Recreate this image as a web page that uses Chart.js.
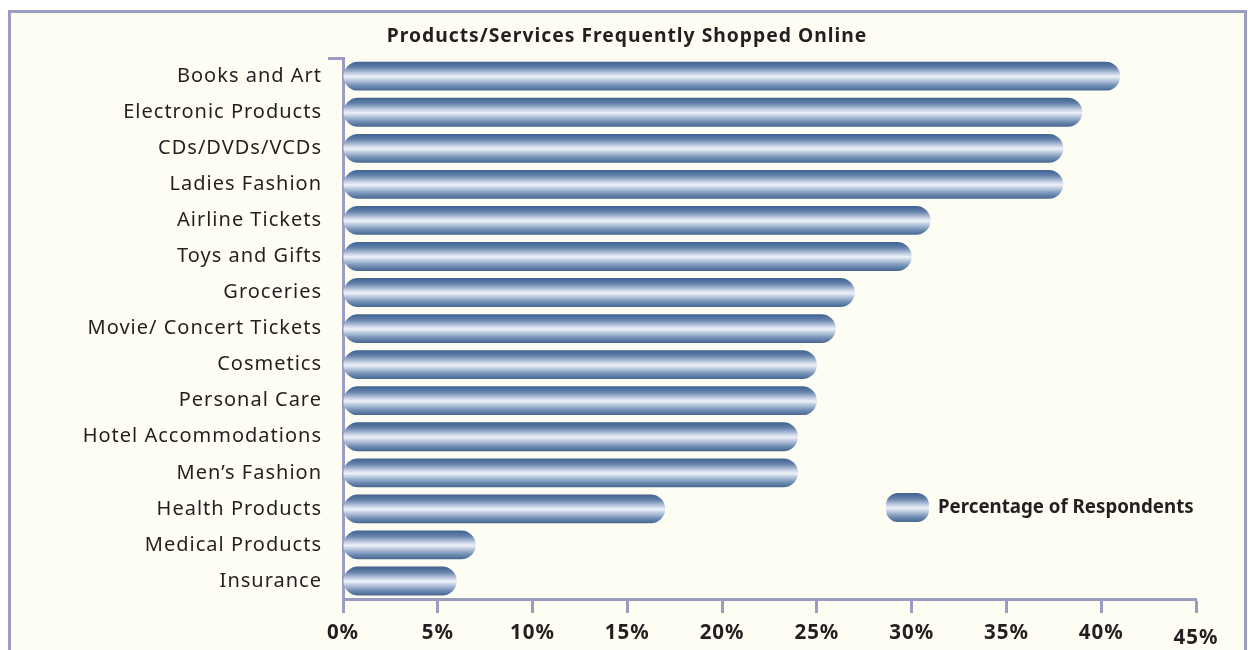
<!DOCTYPE html>
<html>
<head>
<meta charset="utf-8">
<script src="https://cdn.jsdelivr.net/npm/chart.js@4"></script>
<style>
  html, body { margin: 0; padding: 0; background: #fff; }
  #wrap { width: 1248px; height: 650px; }
</style>
</head>
<body>
<div id="wrap"><canvas id="myChart" width="1248" height="650"></canvas></div>
<script>
var categories = [
    "Books and Art", "Electronic Products", "CDs/DVDs/VCDs", "Ladies Fashion",
    "Airline Tickets", "Toys and Gifts", "Groceries", "Movie/ Concert Tickets",
    "Cosmetics", "Personal Care", "Hotel Accommodations", "Men\u2019s Fashion",
    "Health Products", "Medical Products", "Insurance"
];
var respondents = [41, 39, 38, 38, 31, 30, 27, 26, 25, 25, 24, 24, 17, 7, 6];
var xTicks = [0, 5, 10, 15, 20, 25, 30, 35, 40, 45];
var seriesLabel = "Percentage of Respondents";
var chartTitle = "Products/Services Frequently Shopped Online";

var axisColor = '#9a9dbf';
var textColor = '#231f20';
var fontFamily = "'Noto Sans', 'Open Sans', sans-serif";

// cylinder look for the bars
function tube(ctx, top, h) {
    var g = ctx.createLinearGradient(0, top, 0, top + h);
    g.addColorStop(0, '#3d618f');
    g.addColorStop(0.2, '#6582ab');
    g.addColorStop(0.42, '#c9d4e6');
    g.addColorStop(0.52, '#eef2f9');
    g.addColorStop(0.62, '#c3cfe3');
    g.addColorStop(0.82, '#7390b6');
    g.addColorStop(1, '#45668f');
    return g;
}

function barFill(c) {
    var chart = c.chart;
    var y = chart.scales.y;
    if (!y || c.dataIndex === undefined) return '#5a7aa8';
    var mid = y.getPixelForValue(c.dataIndex);
    if (!isFinite(mid)) return '#5a7aa8';
    var h = 29;
    return tube(chart.ctx, mid - h / 2, h);
}

// frame + cream background
var framePlugin = {
    id: 'frame',
    beforeDraw: function(chart) {
        var ctx = chart.ctx;
        ctx.save();
        ctx.fillStyle = '#ffffff';
        ctx.fillRect(0, 0, chart.width, chart.height);
        ctx.fillStyle = '#fdfdf4';
        ctx.fillRect(9, 11, 1236, chart.height);
        ctx.strokeStyle = axisColor;
        ctx.lineWidth = 3;
        ctx.beginPath();
        ctx.moveTo(9.5, chart.height + 5);
        ctx.lineTo(9.5, 11.5);
        ctx.lineTo(1245.5, 11.5);
        ctx.lineTo(1245.5, chart.height + 5);
        ctx.stroke();
        ctx.restore();
        // the original type is set wide
        ctx.letterSpacing = '1px';
    }
};

// legend sits inside the plot, lower right
var legendPlugin = {
    id: 'boxLegend',
    afterDraw: function(chart) {
        var ctx = chart.ctx;
        var x = 886, y = 493, w = 43, h = 29;
        ctx.save();
        ctx.letterSpacing = '0px';
        ctx.fillStyle = tube(ctx, y, h);
        ctx.beginPath();
        ctx.roundRect(x, y, w, h, 12);
        ctx.fill();
        ctx.fillStyle = textColor;
        ctx.font = "bold 18.7px " + fontFamily;
        ctx.textBaseline = 'middle';
        ctx.textAlign = 'left';
        ctx.fillText(chart.data.datasets[0].label, 938, y + h / 2);
        ctx.restore();
    }
};

var ctx = document.getElementById('myChart').getContext('2d');
var chart = new Chart(ctx, {
    type: 'bar',
    data: {
        labels: categories,
        datasets: [{
            label: seriesLabel,
            data: respondents,
            backgroundColor: barFill,
            borderWidth: 0,
            borderRadius: 15,
            borderSkipped: false,
            barPercentage: 0.8,
            categoryPercentage: 1
        }]
    },
    options: {
        indexAxis: 'y',
        responsive: false,
        animation: false,
        layout: { padding: { left: 58, right: 52, top: 14, bottom: 0 } },
        plugins: {
            legend: { display: false },
            tooltip: { enabled: false },
            title: {
                display: true,
                text: chartTitle,
                color: textColor,
                font: { family: fontFamily, size: 19.3, weight: 'bold', lineHeight: 1.2 },
                padding: { top: 11, bottom: 10 }
            }
        },
        scales: {
            x: {
                type: 'linear',
                min: 0,
                max: 45,
                afterBuildTicks: function(axis) {
                    axis.ticks = xTicks.map(function(v) { return { value: v }; });
                },
                afterFit: function(axis) { axis.height = 51; },
                border: { display: true, color: axisColor, width: 3 },
                grid: {
                    drawOnChartArea: false,
                    drawTicks: true,
                    tickLength: 14,
                    tickWidth: 3,
                    color: axisColor
                },
                ticks: {
                    padding: 8,
                    color: textColor,
                    maxRotation: 0,
                    font: function(c) {
                        var low = c.tick && c.tick.value === 45;
                        return { family: fontFamily, size: 20.5, weight: 'bold', lineHeight: low ? 1.69 : 1.2 };
                    },
                    callback: function(v) { return v + '%'; }
                }
            },
            y: {
                afterFit: function(axis) { axis.width = 285; },
                border: { display: true, color: axisColor, width: 3 },
                grid: {
                    offset: true,
                    drawOnChartArea: false,
                    drawTicks: true,
                    tickLength: 15,
                    tickWidth: 3,
                    color: function(c) {
                        return (c.index === 0 || c.index === categories.length) ? axisColor : 'rgba(0,0,0,0)';
                    }
                },
                ticks: {
                    padding: 6,
                    color: textColor,
                    font: { family: fontFamily, size: 20 }
                }
            }
        }
    },
    plugins: [framePlugin, legendPlugin]
});
</script>
</body>
</html>
